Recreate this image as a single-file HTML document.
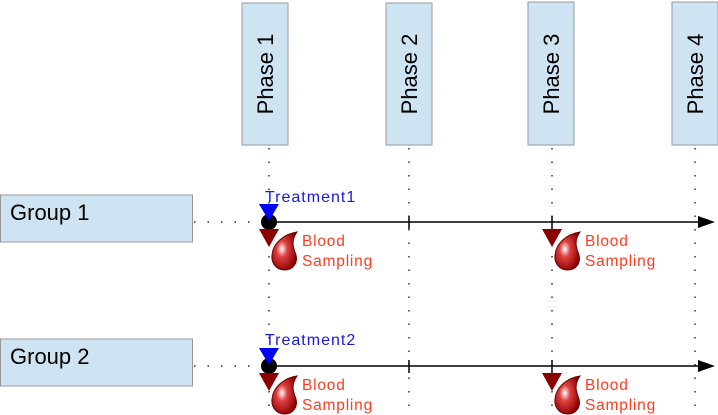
<!DOCTYPE html>
<html><head><style>body{margin:0;background:#fff}svg{display:block}</style></head><body>
<svg width="718" height="415" xmlns="http://www.w3.org/2000/svg" font-family="Liberation Sans, sans-serif">
<defs>
<radialGradient id="dg" cx="0.4" cy="0.45" r="0.6">
<stop offset="0" stop-color="#fff"/><stop offset="0.35" stop-color="#e04040"/><stop offset="1" stop-color="#8a0000"/>
</radialGradient>
<g id="bs">
<polygon points="-10,0 10,0 0,18" fill="#8b0000"/>
<path d="M28,3 C15,5 4,14 3,26 C2,35 8,41 16,41 C24,41 29,34 27,26 C25,20 21,13 28,3 Z" fill="url(#dg)" stroke="#6b0000" stroke-width="1"/>
<text x="33" y="17" font-size="15.5" letter-spacing="0.8" fill="#ff3b1f">Blood</text>
<text x="33" y="37" font-size="15.5" letter-spacing="0.8" fill="#ff3b1f">Sampling</text>
</g>
</defs>
<g stroke="#000" stroke-width="1.2" stroke-dasharray="1.5,12">
<line x1="269" y1="148" x2="269" y2="415"/>
<line x1="409" y1="148" x2="409" y2="415"/>
<line x1="552" y1="148" x2="552" y2="415"/>
<line x1="695" y1="148" x2="695" y2="415"/>
<line x1="194" y1="222" x2="262" y2="222"/>
<line x1="194" y1="366" x2="262" y2="366"/>
</g>
<g fill="#cfe4f2" stroke="#999" stroke-width="1">
<rect x="242" y="3" width="46" height="142"/>
<rect x="386" y="3" width="46" height="142"/>
<rect x="528" y="2" width="46" height="143"/>
<rect x="672" y="2" width="46" height="143"/>
<rect x="0.5" y="195" width="192" height="47"/>
<rect x="0.5" y="339" width="192" height="47"/>
</g>
<g font-size="22" fill="#000" text-anchor="middle">
<text transform="translate(273,74) rotate(-90)">Phase 1</text>
<text transform="translate(417,74) rotate(-90)">Phase 2</text>
<text transform="translate(559,74) rotate(-90)">Phase 3</text>
<text transform="translate(703,74) rotate(-90)">Phase 4</text>
</g>
<text x="10" y="220" font-size="22">Group 1</text>
<text x="10" y="364" font-size="22">Group 2</text>
<g stroke="#000" stroke-width="1.5">
<line x1="270" y1="222" x2="700" y2="222"/>
<line x1="270" y1="366" x2="700" y2="366"/>
<line x1="409" y1="216" x2="409" y2="229"/><line x1="552" y1="216" x2="552" y2="229"/>
<line x1="409" y1="360" x2="409" y2="373"/><line x1="552" y1="360" x2="552" y2="373"/>
</g>
<polygon points="698,216 715,222 698,228" fill="#000"/>
<polygon points="698,360 715,366 698,372" fill="#000"/>
<circle cx="269" cy="222" r="8" fill="#000"/>
<circle cx="269" cy="366" r="8" fill="#000"/>
<polygon points="259,204 279,204 269,221" fill="#0000ff"/>
<polygon points="259,348 279,348 269,365" fill="#0000ff"/>
<text x="265" y="202" font-size="16" letter-spacing="1" fill="#1a1adb">Treatment1</text>
<text x="265" y="345" font-size="16" letter-spacing="1" fill="#1a1adb">Treatment2</text>
<use href="#bs" x="269" y="229"/>
<use href="#bs" x="552" y="229"/>
<use href="#bs" x="269" y="373"/>
<use href="#bs" x="552" y="373"/>
</svg>
</body></html>
